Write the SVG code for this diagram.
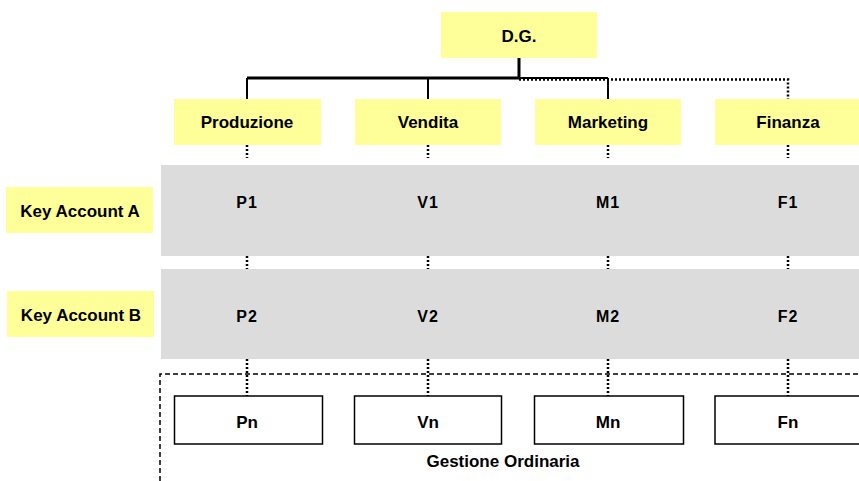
<svg xmlns="http://www.w3.org/2000/svg" width="859" height="481" viewBox="0 0 859 481">
<style>
.y{fill:#ffff99}
.band{fill:#dcdcdc}
.w{fill:#ffffff;stroke:#000;stroke-width:1.5}
text{font-family:"Liberation Sans",Arial,sans-serif;font-weight:bold;font-size:17px;fill:#000;text-anchor:middle}
.s{font-size:16px;letter-spacing:1px}
.solid{stroke:#000;fill:none}
.dot{stroke:#000;fill:none;stroke-width:2.5;stroke-dasharray:2 2}
.dash{stroke:#000;fill:none;stroke-width:1.5;stroke-dasharray:5 3}
</style>
<rect width="859" height="481" fill="#fff"/>
<g id="bands">
<rect class="band" x="161" y="165" width="698" height="91"/>
<rect class="band" x="161" y="269" width="698" height="90"/>
</g>
<g id="connectors">
<path class="solid" stroke-width="3" d="M519 58V79M247 78H519"/>
<path class="solid" stroke-width="2" d="M519 78H608M247 78V99M428 78V99M608 78V99"/>
<path class="dot" d="M519 79.5H788V99"/>
<path class="dot" d="M247 145V158M428 145V158M608 145V158M788 145V158"/>
<path class="dot" d="M247 256V269M428 256V269M608 256V269M788 256V269"/>
<path class="dot" d="M247 359V396M428 359V396M608 359V396M788 359V396"/>
<path class="dash" d="M160 481V374H859"/>
</g>
<g id="dg"><rect class="y" x="441" y="12" width="156" height="46"/><text x="519" y="42">D.G.</text></g>
<g id="produzione"><rect class="y" x="174" y="99" width="147" height="46"/><text x="247" y="128">Produzione</text></g>
<g id="vendita"><rect class="y" x="355" y="99" width="146" height="46"/><text x="428" y="128">Vendita</text></g>
<g id="marketing"><rect class="y" x="535" y="99" width="146" height="46"/><text x="608" y="128">Marketing</text></g>
<g id="finanza"><rect class="y" x="715" y="99" width="146" height="46"/><text x="788" y="128">Finanza</text></g>
<g id="kaA"><rect class="y" x="6" y="187" width="147" height="46"/><text x="80" y="217">Key Account A</text></g>
<g id="kaB"><rect class="y" x="7" y="291" width="147" height="46"/><text x="81" y="321">Key Account B</text></g>
<g id="p1"><text class="s" x="247" y="208">P1</text></g>
<g id="v1"><text class="s" x="428" y="208">V1</text></g>
<g id="m1"><text class="s" x="608" y="208">M1</text></g>
<g id="f1"><text class="s" x="788" y="208">F1</text></g>
<g id="p2"><text class="s" x="247" y="322">P2</text></g>
<g id="v2"><text class="s" x="428" y="322">V2</text></g>
<g id="m2"><text class="s" x="608" y="322">M2</text></g>
<g id="f2"><text class="s" x="788" y="322">F2</text></g>
<g id="pn"><rect class="w" x="174.5" y="396" width="148" height="48"/><text x="247" y="428">Pn</text></g>
<g id="vn"><rect class="w" x="354.5" y="396" width="147" height="48"/><text x="428" y="428">Vn</text></g>
<g id="mn"><rect class="w" x="534.5" y="396" width="149" height="48"/><text x="608" y="428">Mn</text></g>
<g id="fn"><rect class="w" x="715" y="396" width="150" height="48"/><text x="788" y="428">Fn</text></g>
<g id="gestione"><text x="503" y="467">Gestione Ordinaria</text></g>
</svg>
